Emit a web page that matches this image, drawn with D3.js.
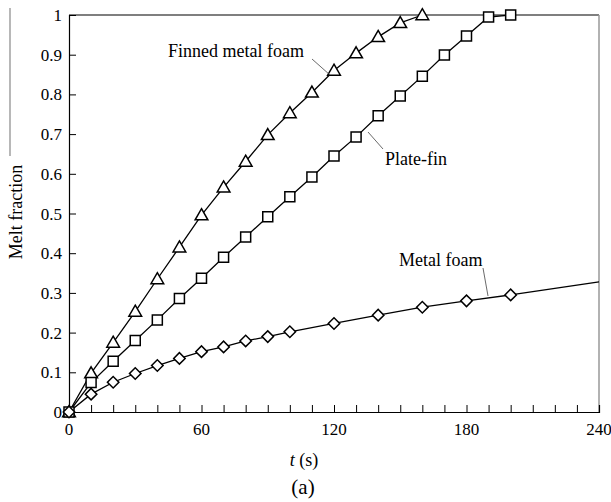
<!DOCTYPE html>
<html>
<head>
<meta charset="utf-8">
<script src="https://cdn.jsdelivr.net/npm/d3@7"></script>
<style>
  html, body { margin: 0; padding: 0; background: #fff; }
  svg { display: block; }
</style>
</head>
<body>
<svg id="chart" width="611" height="502" font-family="'Liberation Serif', 'DejaVu Serif', serif"></svg>
<script>
// Melt fraction versus time for three heat-transfer enhancements
const timeFinned = [0, 10, 20, 30, 40, 50, 60, 70, 80, 90, 100, 110, 120, 130, 140, 150, 160];
const meltFinned = [0, 0.098, 0.175, 0.253, 0.335, 0.415, 0.496, 0.566, 0.631, 0.698, 0.753, 0.805, 0.860, 0.904, 0.945, 0.980, 1.0];

const timePlate = [0, 10, 20, 30, 40, 50, 60, 70, 80, 90, 100, 110, 120, 130, 140, 150, 160, 170, 180, 190, 200];
const meltPlate = [0, 0.074, 0.128, 0.180, 0.232, 0.286, 0.337, 0.390, 0.441, 0.492, 0.542, 0.592, 0.645, 0.693, 0.746, 0.796, 0.846, 0.899, 0.947, 0.995, 1.0];

const timeFoam = [0, 10, 20, 30, 40, 50, 60, 70, 80, 90, 100, 120, 140, 160, 180, 200, 240];
const meltFoam = [0, 0.045, 0.075, 0.097, 0.117, 0.135, 0.152, 0.164, 0.179, 0.190, 0.202, 0.223, 0.244, 0.264, 0.280, 0.295, 0.328];
const lastFoamMarker = 200; // curve continues past the final marker

const xTicks = [0, 60, 120, 180, 240];
const yTicks = [0, 0.1, 0.2, 0.3, 0.4, 0.5, 0.6, 0.7, 0.8, 0.9, 1];

const svg = d3.select("#chart");
const plotL = 69, plotR = 599, plotT = 15, plotB = 412;

const x = d3.scaleLinear().domain([0, 240]).range([plotL, plotR]);
const y = d3.scaleLinear().domain([0, 1]).range([plotB, plotT]);

// frame: top edge black, right edge grey
svg.append("line").attr("x1", plotL).attr("x2", plotR).attr("y1", plotT).attr("y2", plotT)
  .attr("stroke", "#000").attr("stroke-width", 1.2);
svg.append("line").attr("x1", plotR).attr("x2", plotR).attr("y1", plotT).attr("y2", plotB)
  .attr("stroke", "#999").attr("stroke-width", 1.5);

// stray rule at the far left edge
svg.append("line").attr("x1", 10).attr("x2", 10).attr("y1", 8).attr("y2", 156)
  .attr("stroke", "#888").attr("stroke-width", 1.2);

// x axis with inward ticks every 10 s
const xAxis = d3.axisTop(x).tickValues(d3.range(0, 241, 10)).tickSize(7).tickFormat("");
const gx = svg.append("g").attr("transform", `translate(0,${plotB})`).call(xAxis);
gx.select(".domain").attr("stroke", "#000").attr("stroke-width", 1.2);
gx.selectAll(".tick line").attr("stroke", "#000").attr("stroke-width", 1);

svg.append("g").selectAll("text").data(xTicks).join("text")
  .attr("x", d => x(d)).attr("y", 435)
  .attr("text-anchor", "middle").attr("font-size", 17)
  .text(d => d);

// y axis with inward ticks
const yAxis = d3.axisRight(y).tickValues(yTicks).tickSize(7).tickFormat("");
const gy = svg.append("g").attr("transform", `translate(${plotL},0)`).call(yAxis);
gy.select(".domain").attr("stroke", "#000").attr("stroke-width", 1.2);
gy.selectAll(".tick line").attr("stroke", "#000").attr("stroke-width", 1);

svg.append("g").selectAll("text").data(yTicks).join("text")
  .attr("x", 62).attr("y", d => y(d) + 6)
  .attr("text-anchor", "end").attr("font-size", 17)
  .text(d => d3.format("")(d));

// axis titles
svg.append("text").attr("transform", "translate(22,212) rotate(-90)")
  .attr("text-anchor", "middle").attr("font-size", 18)
  .text("Melt fraction");

const xt = svg.append("text").attr("x", 304).attr("y", 466)
  .attr("text-anchor", "middle").attr("font-size", 18);
xt.append("tspan").attr("font-style", "italic").text("t");
xt.append("tspan").text(" (s)");

svg.append("text").attr("x", 303).attr("y", 494)
  .attr("text-anchor", "middle").attr("font-size", 21)
  .text("(a)");

// curves
const line = d3.line().x(d => x(d[0])).y(d => y(d[1]));
const series = [
  { t: timeFinned, v: meltFinned, shape: "tri" },
  { t: timePlate, v: meltPlate, shape: "sq" },
  { t: timeFoam, v: meltFoam, shape: "dia" }
];

series.forEach(s => {
  const pts = s.t.map((t, i) => [t, s.v[i]]);
  svg.append("path").datum(pts).attr("d", line)
    .attr("fill", "none").attr("stroke", "#000").attr("stroke-width", 1.3);
});

// open markers; the diamond is a square turned 45 degrees
const shapes = {
  tri: { path: d3.symbol().type(d3.symbolTriangle).size(70)(), rot: 0, dy: 1 },
  sq: { path: d3.symbol().type(d3.symbolSquare).size(100)(), rot: 0, dy: 0 },
  dia: { path: d3.symbol().type(d3.symbolSquare).size(66)(), rot: 45, dy: 0 }
};

series.forEach(s => {
  const m = shapes[s.shape];
  const pts = s.t.map((t, i) => [t, s.v[i]])
    .filter(d => s.shape !== "dia" || d[0] <= lastFoamMarker);
  svg.append("g").selectAll("path").data(pts).join("path")
    .attr("transform", d => `translate(${x(d[0])},${y(d[1]) + m.dy}) rotate(${m.rot})`)
    .attr("d", m.path)
    .attr("fill", "#fff").attr("stroke", "#000").attr("stroke-width", 1.5);
});

// series annotations with leader lines
const notes = [
  { label: "Finned metal foam", tx: 168, ty: 57, x1: 312, y1: 59, x2: 330, y2: 75 },
  { label: "Plate-fin", tx: 385, ty: 165, x1: 368, y1: 132, x2: 383, y2: 149 },
  { label: "Metal foam", tx: 399, ty: 266, x1: 483, y1: 268, x2: 488, y2: 296 }
];
notes.forEach(n => {
  svg.append("line").attr("x1", n.x1).attr("y1", n.y1).attr("x2", n.x2).attr("y2", n.y2)
    .attr("stroke", "#444").attr("stroke-width", 0.8);
  svg.append("text").attr("x", n.tx).attr("y", n.ty).attr("font-size", 18).text(n.label);
});
</script>
</body>
</html>
